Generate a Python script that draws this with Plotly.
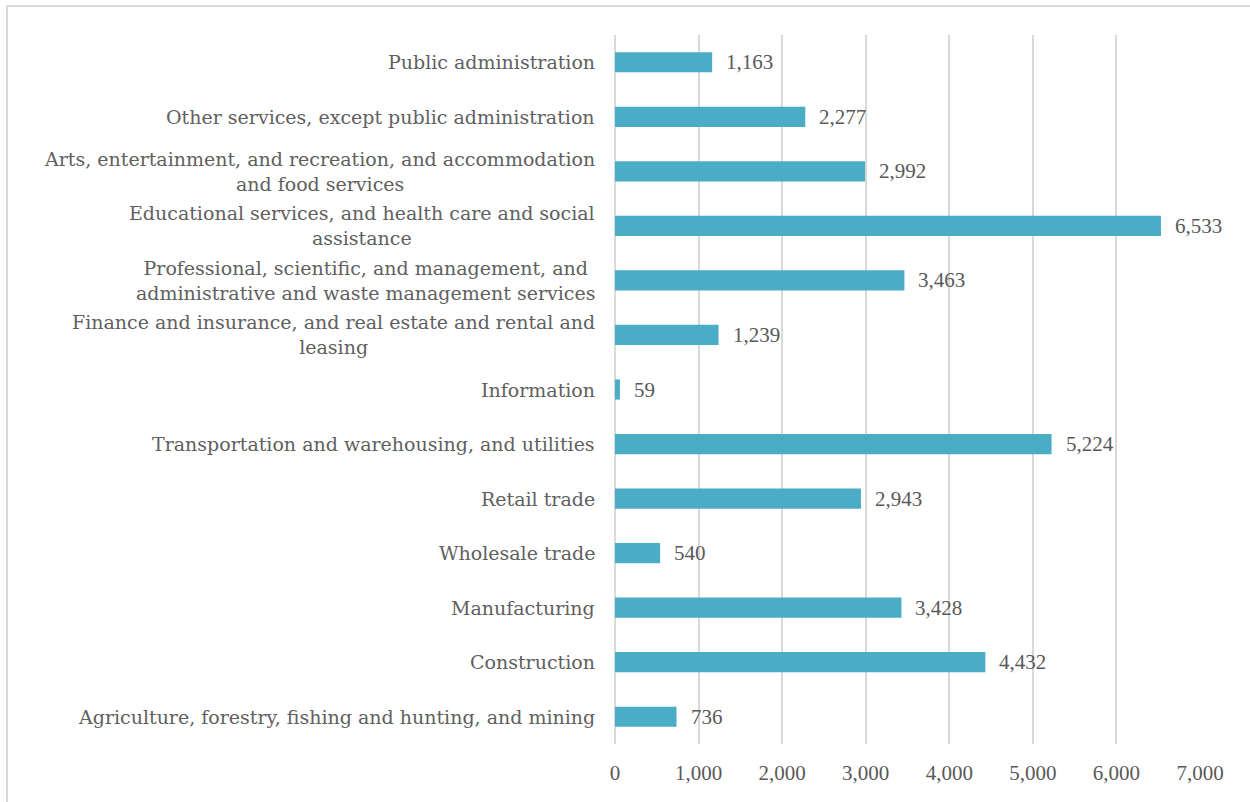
import plotly.graph_objects as go

categories = [
    "Agriculture, forestry, fishing and hunting, and mining",
    "Construction",
    "Manufacturing",
    "Wholesale trade",
    "Retail trade",
    "Transportation and warehousing, and utilities",
    "Information",
    "Finance and insurance, and real estate and rental and<br>leasing",
    "Professional, scientific, and management, and<br>administrative and waste management services",
    "Educational services, and health care and social<br>assistance",
    "Arts, entertainment, and recreation, and accommodation<br>and food services",
    "Other services, except public administration",
    "Public administration",
]
values = [736, 4432, 3428, 540, 2943, 5224, 59, 1239, 3463, 6533, 2992, 2277, 1163]
x_ticks = [0, 1000, 2000, 3000, 4000, 5000, 6000, 7000]
x_tick_labels = ["0", "1,000", "2,000", "3,000", "4,000", "5,000", "6,000", "7,000"]

NUM_FONT = "Liberation Serif"
LBL_FONT = "DejaVu Serif"
TXT = "#595959"

ids = list(range(len(categories)))

fig = go.Figure(go.Bar(
    x=values,
    y=ids,
    orientation="h",
    marker=dict(color="#4BACC6", line=dict(width=0)),
    width=0.37,
    hoverinfo="x",
))

for i, c in enumerate(categories):
    fig.add_annotation(
        x=0, xref="paper", y=i, yref="y",
        text=c, showarrow=False, xanchor="right", yanchor="middle",
        align="center", xshift=-18,
        font=dict(family=LBL_FONT, size=19, color="#606060"),
    )

for i, v in enumerate(values):
    fig.add_annotation(
        x=v, xref="x", y=i, yref="y",
        text=f"{v:,}", showarrow=False, xanchor="left", yanchor="middle",
        xshift=12,
        font=dict(family=NUM_FONT, size=21, color=TXT),
    )

fig.add_shape(type="rect", xref="paper", yref="paper",
              x0=-1.0393, x1=1.2, y0=-0.2, y1=1.0409,
              line=dict(color="#d9d9d9", width=2), layer="below")

fig.update_layout(
    width=1250, height=802,
    margin=dict(l=615, r=50, t=35, b=58),
    paper_bgcolor="white", plot_bgcolor="white",
    showlegend=False,
    font=dict(family=NUM_FONT, size=20, color=TXT),
    xaxis=dict(
        range=[0, 7000], tickvals=x_ticks, ticktext=x_tick_labels,
        showgrid=True, gridcolor="#d9d9d9", gridwidth=1.5,
        zeroline=True, zerolinecolor="#d9d9d9", zerolinewidth=1.5,
        showline=False, ticks="", ticklen=0, ticklabelstandoff=14,
        tickfont=dict(family=NUM_FONT, size=21, color=TXT),
    ),
    yaxis=dict(
        range=[-0.5, len(categories) - 0.5],
        showticklabels=False, showgrid=False, zeroline=False, showline=False,
    ),
)

fig.write_html("out.html", config={"displayModeBar": False},
               post_script="document.body.style.margin='0px';")
